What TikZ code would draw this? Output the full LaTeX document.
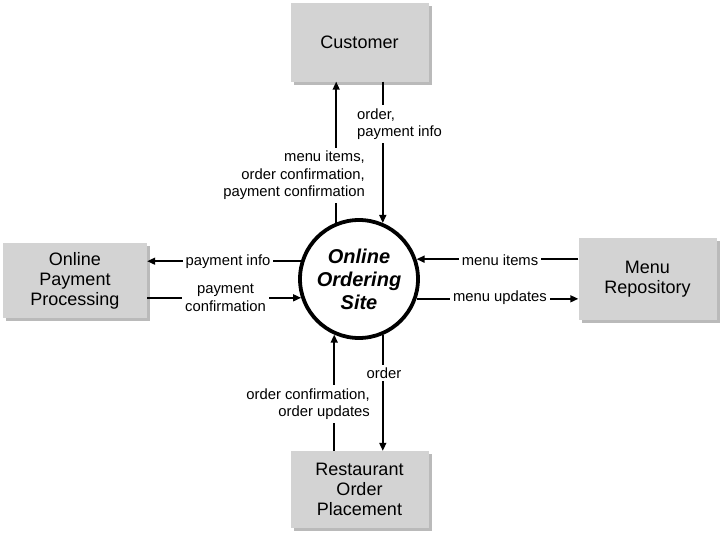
\documentclass[tikz,border=0pt]{standalone}
\usepackage{fontspec}
\setmainfont{Liberation Sans}
\usetikzlibrary{arrows.meta, shadows}

\definecolor{boxgray}{HTML}{D3D3D3}

\begin{document}
\begin{tikzpicture}[x=1pt, y=-1pt,
  entity/.style={fill=boxgray, draw=none, minimum width=138pt, minimum height=79pt,
    align=center, font=\fontsize{18}{20}\selectfont,
    drop shadow={shadow xshift=3pt, shadow yshift=-3pt, fill=black!45, opacity=0.6}},
  process/.style={circle, draw, line width=3.8pt, minimum size=118pt, inner sep=0pt,
    align=center, font=\fontsize{20}{23}\selectfont\bfseries\itshape},
  flow/.style={-{Triangle[length=8pt, width=7pt]}, line width=1.5pt},
  flowlabel/.style={fill=white, inner sep=3pt, font=\fontsize{14.8}{17.5}\selectfont}]
  \useasboundingbox (0,0) rectangle (724,538);

  \node[entity] (cust) at (359.5,42) {Customer};
  \node[entity, minimum width=144pt, minimum height=75pt] (pay) at (75,280.5) {Online\\Payment\\Processing};
  \node[entity, minimum height=82pt] (menu) at (647.5,279) {Menu\\Repository};
  \node[entity, minimum height=77pt] (rest) at (359.5,489.5) {Restaurant\\Order\\Placement};
  \node[process] (site) at (359,279) {Online\\Ordering\\Site};

  % customer
  \draw[flow] (site.112) -- (site.112 |- cust.south);
  \draw[flow] (cust.south -| site.67) -- (site.67);
  % payment
  \draw[flow] (site.163) -- (site.163 -| pay.east);
  \draw[flow] (pay.east |- site.198) -- (site.198);
  % menu
  \draw[flow] (menu.west |- site.19) -- (site.19);
  \draw[flow] (site.341) -- (site.341 -| menu.west);
  % restaurant
  \draw[flow] (site.293) -- (site.293 |- rest.north);
  \draw[flow] (rest.north -| site.246) -- (site.246);

  % labels
  \node[flowlabel, anchor=east, align=right] (l1) at (368,175.5) {menu items,\\order confirmation,\\payment confirmation};
  \node[flowlabel, anchor=west, align=left] (l2) at (354,124) {order,\\payment info};
  \node[flowlabel] (l3) at (228,262) {payment info};
  \node[flowlabel, align=center] (l4) at (225.5,298) {payment\\confirmation};
  \node[flowlabel] (l5) at (500,260) {menu items};
  \node[flowlabel] (l6) at (500,298) {menu updates};
  \node[flowlabel] (l7) at (384,373) {order};
  \node[flowlabel, anchor=east, align=right] (l8) at (373,404) {order confirmation,\\order updates};
\end{tikzpicture}
\end{document}
